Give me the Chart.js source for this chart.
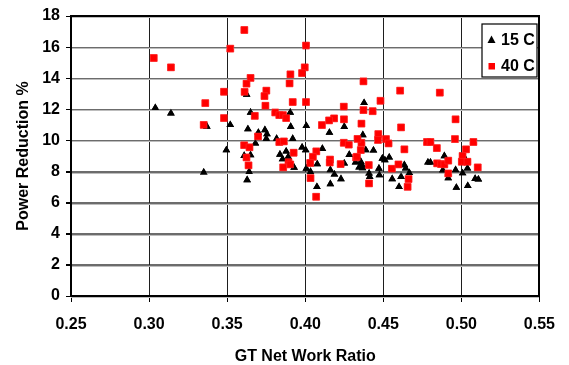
<!DOCTYPE html>
<html>
<head>
<meta charset="utf-8">
<script src="https://cdn.jsdelivr.net/npm/chart.js@4.4.0/dist/chart.umd.min.js"></script>
<style>
  html, body { margin: 0; padding: 0; background: #fff; }
</style>
</head>
<body>
<canvas id="myChart" width="569" height="365"></canvas>
<script>
// series labels
const seriesNames = ['15 C', '40 C'];

// 15 C (black triangles)
const x15 = [0.304, 0.314, 0.337, 0.335, 0.352, 0.3495, 0.365, 0.3625, 0.3633, 0.3742,
  0.3755, 0.3907, 0.392, 0.370, 0.3681, 0.3751, 0.3817, 0.3609, 0.365, 0.3838,
  0.3878, 0.3891, 0.3855, 0.3929, 0.3641, 0.3628, 0.3904, 0.398, 0.4003, 0.411,
  0.4077, 0.4007, 0.4034, 0.4075, 0.4161, 0.4187, 0.4229, 0.4161, 0.425, 0.4282,
  0.4322, 0.4356, 0.4364, 0.4345, 0.4367, 0.4388, 0.4437, 0.4409, 0.4413, 0.4472,
  0.4475, 0.4494, 0.451, 0.4538, 0.4377, 0.4007, 0.425, 0.4155, 0.4369, 0.4635,
  0.4643, 0.4667, 0.4614, 0.4557, 0.4601, 0.4786, 0.4802, 0.4891, 0.4881, 0.4916,
  0.4963, 0.4968, 0.5008, 0.5039, 0.5041, 0.5088, 0.5109, 0.5014];
const y15 = [12.1, 11.75, 10.9, 7.95, 11.0, 9.38, 11.8, 12.95, 10.73, 10.67,
  10.41, 10.88, 10.11, 10.5, 9.81, 10.11, 10.11, 9.02, 9.06, 9.1,
  9.3, 8.95, 8.8, 8.25, 7.99, 7.46, 11.8, 9.56, 9.38, 9.47,
  8.48, 8.2, 7.99, 7.02, 8.1, 7.82, 7.52, 7.2, 8.53, 9.08,
  8.59, 8.63, 8.42, 8.27, 8.23, 9.38, 9.36, 7.88, 7.67, 8.2,
  7.78, 8.84, 8.74, 8.91, 12.42, 10.94, 10.88, 10.5, 10.35, 8.42,
  8.21, 7.92, 7.67, 7.52, 7.02, 8.59, 8.59, 9.0, 8.08, 7.58,
  8.1, 6.97, 7.9, 8.21, 7.08, 7.54, 7.5, 9.0];

// 40 C (red squares)
const x40 = [0.303, 0.314, 0.348, 0.336, 0.335, 0.348, 0.361, 0.352, 0.4005, 0.3997,
  0.398, 0.3905, 0.390, 0.365, 0.3624, 0.3612, 0.3751, 0.3739, 0.3745, 0.392,
  0.4005, 0.4373, 0.4482, 0.4247, 0.4373, 0.4432, 0.3677, 0.3808, 0.3834, 0.3857,
  0.3878, 0.3698, 0.3834, 0.3863, 0.3609, 0.3643, 0.3624, 0.3926, 0.3893, 0.3904,
  0.3859, 0.3637, 0.4071, 0.4049, 0.4032, 0.4034, 0.407, 0.4159, 0.4157, 0.4227,
  0.4247, 0.4279, 0.4326, 0.4356, 0.436, 0.4335, 0.4407, 0.4409, 0.4248, 0.4185,
  0.4153, 0.4107, 0.436, 0.4468, 0.4466, 0.4331, 0.4608, 0.4862, 0.4963, 0.4614,
  0.4959, 0.4517, 0.4534, 0.478, 0.4802, 0.4843, 0.4635, 0.4555, 0.4597, 0.4662,
  0.4656, 0.4845, 0.487, 0.4891, 0.4916, 0.4916, 0.5077, 0.503, 0.5008, 0.5003,
  0.5039, 0.5105];
const y40 = [15.3, 14.7, 13.13, 12.4, 11.0, 11.44, 17.1, 15.9, 16.1, 14.7,
  14.33, 14.25, 13.67, 14.02, 13.65, 13.12, 13.2, 12.85, 12.23, 12.47,
  12.47, 13.8, 12.55, 12.17, 11.95, 11.88, 11.58, 11.8, 11.63, 11.63,
  11.44, 10.26, 9.9, 9.94, 9.7, 9.56, 8.91, 9.21, 8.61, 8.46,
  8.27, 8.4, 9.3, 8.95, 8.55, 7.58, 6.38, 8.77, 8.58, 8.48,
  9.85, 9.73, 8.91, 9.38, 9.85, 10.1, 8.42, 7.24, 11.36, 11.42,
  11.29, 10.99, 11.08, 10.41, 10.03, 8.95, 13.2, 13.07, 11.36, 10.84,
  10.09, 10.09, 9.81, 9.9, 9.9, 9.51, 9.43, 8.18, 8.46, 7.52,
  7.02, 8.53, 8.48, 8.46, 8.7, 7.88, 9.9, 9.43, 9.0, 8.63,
  8.63, 8.27];

// axis tick labels
const xTickLabels = ['0.25', '0.30', '0.35', '0.40', '0.45', '0.50', '0.55'];
const yTickLabels = ['0', '2', '4', '6', '8', '10', '12', '14', '16', '18'];

const fontFamily = "'Liberation Sans', Arial, sans-serif";
const xGridColor = '#1e1e1e';
const yGridColor = '#6c6c6c';

function toPoints(xs, ys) {
    return xs.map((x, i) => ({ x: x, y: ys[i] }));
}

// grid lines and tick marks as 1px filled bars at the tick values,
// then the points again on top of them
const gridLines = {
    id: 'gridLines',
    afterDatasetsDraw(chart) {
        const { ctx, chartArea: a, scales } = chart;
        const top = Math.round(a.top), bottom = Math.round(a.bottom);
        const left = Math.round(a.left), right = Math.round(a.right);
        ctx.save();
        xTickLabels.forEach((lbl) => {
            const px = Math.round(scales.x.getPixelForValue(Number(lbl)));
            ctx.fillStyle = xGridColor;
            ctx.fillRect(px, top, 1, bottom - top);
            ctx.fillStyle = '#000';
            ctx.fillRect(px, bottom, 1, 6);
        });
        yTickLabels.forEach((lbl) => {
            const py = Math.round(scales.y.getPixelForValue(Number(lbl)));
            ctx.fillStyle = yGridColor;
            ctx.fillRect(left, py, right - left, 1);
            ctx.fillStyle = '#bdbdbd';
            ctx.fillRect(left, py + 1, right - left, 1);
            ctx.fillStyle = '#000';
            ctx.fillRect(left - 5, py, 5, 1);
        });
        // plot frame
        ctx.fillStyle = '#000';
        ctx.fillRect(left - 1, top, 2, bottom - top + 1);
        ctx.fillRect(left, top - 1, right - left + 1, 2);
        ctx.fillRect(right - 1, top, 2, bottom - top + 1);
        ctx.fillRect(left, bottom - 1, right - left + 1, 2);
        ctx.restore();

        // points back on top of the lines
        chart.data.datasets.forEach((ds, i) => {
            const meta = chart.getDatasetMeta(i);
            try { meta.controller.draw(); } catch (e) { }
        });
    }
};

// legend box inside the plot, top right
const boxLegend = {
    id: 'boxLegend',
    afterDraw(chart) {
        const ctx = chart.ctx;
        const bx = 482, by = 24, bw = 55, bh = 53;
        ctx.save();
        ctx.fillStyle = '#fff';
        ctx.fillRect(bx, by, bw, bh);
        ctx.strokeStyle = '#000';
        ctx.lineWidth = 1.2;
        ctx.strokeRect(bx, by, bw, bh);
        ctx.font = 'bold 16px ' + fontFamily;
        ctx.textBaseline = 'middle';
        ctx.textAlign = 'left';
        chart.data.datasets.forEach((ds, i) => {
            const cy = by + 16 + i * 26;
            ctx.fillStyle = ds.backgroundColor;
            ctx.beginPath();
            if (ds.pointStyle === 'triangle') {
                ctx.moveTo(491.5, cy - 4.5);
                ctx.lineTo(495.5, cy + 3);
                ctx.lineTo(487.5, cy + 3);
                ctx.closePath();
                ctx.fill();
            } else {
                ctx.fillRect(488.5, cy - 3, 6.5, 6.5);
            }
            ctx.fillStyle = '#000';
            ctx.fillText(ds.label, 501, cy + 1);
        });
        ctx.restore();
    }
};

const chart = new Chart(document.getElementById('myChart'), {
    type: 'scatter',
    data: {
        datasets: [{
            label: seriesNames[0],
            data: toPoints(x15, y15),
            pointStyle: 'triangle',
            pointRadius: 4.4,
            backgroundColor: '#000',
            borderColor: '#000',
            borderWidth: 0
        }, {
            label: seriesNames[1],
            data: toPoints(x40, y40),
            pointStyle: 'rect',
            pointRadius: 4.8,
            backgroundColor: '#ff0000',
            borderColor: '#ff3030',
            borderWidth: 0.5
        }]
    },
    options: {
        responsive: false,
        animation: false,
        layout: { padding: { top: 16, right: 25, left: 0, bottom: 0 } },
        plugins: {
            legend: { display: false },
            tooltip: { enabled: false }
        },
        scales: {
            x: {
                type: 'linear',
                position: 'bottom',
                min: 0.25,
                max: 0.55,
                afterFit: (scale) => { scale.height = 69; },
                ticks: {
                    stepSize: 0.05,
                    color: '#000',
                    padding: 14,
                    font: { family: fontFamily, size: 16, weight: 'bold' },
                    callback: (v, i) => xTickLabels[i]
                },
                grid: { display: true, color: xGridColor, lineWidth: 1, tickLength: 5, tickColor: '#000' },
                border: { display: true, color: '#000', width: 1.5 },
                title: {
                    display: true,
                    text: 'GT Net Work Ratio',
                    color: '#000',
                    padding: { top: 0, bottom: 0 },
                    font: { family: fontFamily, size: 16, weight: 'bold', lineHeight: 1 }
                }
            },
            y: {
                type: 'linear',
                position: 'left',
                min: 0,
                max: 18,
                afterFit: (scale) => { scale.width = 71; },
                ticks: {
                    stepSize: 2,
                    color: '#000',
                    padding: 6,
                    font: { family: fontFamily, size: 16, weight: 'bold' },
                    callback: (v, i) => yTickLabels[i]
                },
                grid: { display: true, color: yGridColor, lineWidth: 1, tickLength: 5, tickColor: '#000' },
                border: { display: true, color: '#000', width: 2 },
                title: {
                    display: true,
                    text: 'Power Reduction %',
                    color: '#000',
                    padding: { top: 14, bottom: 0 },
                    font: { family: fontFamily, size: 16, weight: 'bold' }
                }
            }
        }
    },
    plugins: [gridLines, boxLegend]
});
</script>
</body>
</html>
